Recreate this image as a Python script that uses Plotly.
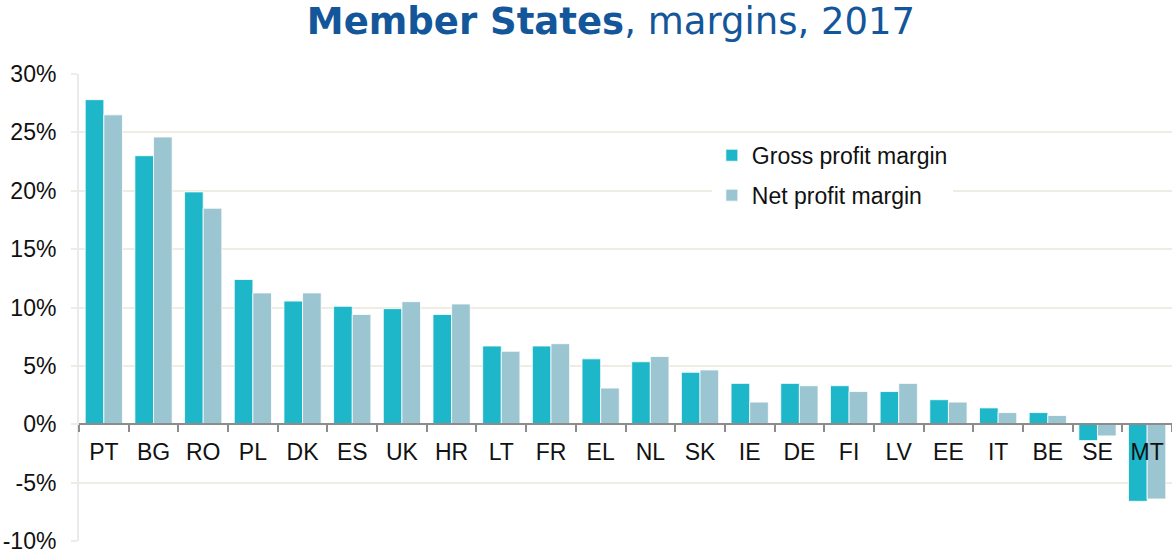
import plotly.graph_objects as go

countries = ["PT", "BG", "RO", "PL", "DK", "ES", "UK", "HR", "LT", "FR", "EL",
             "NL", "SK", "IE", "DE", "FI", "LV", "EE", "IT", "BE", "SE", "MT"]
gross_margin = [27.8, 23.0, 19.9, 12.4, 10.55, 10.1, 9.9, 9.4, 6.7, 6.7, 5.6,
                5.35, 4.45, 3.5, 3.5, 3.3, 2.8, 2.1, 1.4, 1.0, -1.4, -6.6]
net_margin = [26.5, 24.6, 18.5, 11.25, 11.25, 9.4, 10.5, 10.3, 6.25, 6.9, 3.1,
              5.8, 4.65, 1.9, 3.3, 2.8, 3.5, 1.9, 1.0, 0.75, -1.0, -6.4]
series_names = ["Gross profit margin", "Net profit margin"]
y_ticks = [-10, -5, 0, 5, 10, 15, 20, 25, 30]
y_ticklabels = ["-10%", "-5%", "0%", "5%", "10%", "15%", "20%", "25%", "30%"]

GROSS_COLOR = "#1EB6C9"
NET_COLOR = "#9CC5D2"
FONT = "Liberation Sans, Arial, sans-serif"

fig = go.Figure()
fig.add_trace(go.Bar(x=countries, y=gross_margin, name=series_names[0],
                     marker=dict(color=GROSS_COLOR, line=dict(color="white", width=0.8)),
                     legendgroup="g"))
fig.add_trace(go.Bar(x=countries, y=net_margin, name=series_names[1],
                     marker=dict(color=NET_COLOR, line=dict(color="white", width=0.8)),
                     legendgroup="n"))

fig.update_layout(
    width=1172, height=555,
    margin=dict(l=79, r=0, t=74, b=14),
    paper_bgcolor="white", plot_bgcolor="white",
    barmode="group", bargap=0.25, bargroupgap=0,
    title=dict(
        text="<b>Member States</b>, margins, 2017",
        x=611 / 1172, xref="container", xanchor="center",
        y=0.963, yanchor="middle",
        font=dict(family="DejaVu Sans, Verdana, sans-serif", size=37, color="#14569A"),
    ),
    font=dict(family=FONT, size=23, color="#111111"),
    legend=dict(
        x=0.579, y=0.872, xanchor="left", yanchor="top",
        bgcolor="white", borderwidth=0,
        font=dict(family=FONT, size=23, color="#111111"),
        tracegroupgap=7, traceorder="grouped",
        itemwidth=30,
    ),
    showlegend=True,
)

fig.update_yaxes(
    range=[-10, 30], tickvals=y_ticks, ticktext=y_ticklabels,
    showgrid=True, gridcolor="#EFECE2", gridwidth=2,
    zeroline=False, automargin=False,
    showline=True, linecolor="#EAEAEA", linewidth=2,
    ticks="outside", ticklen=6, tickcolor="#EFECE2", tickwidth=2,
    tickfont=dict(family=FONT, size=23, color="#111111"),
    ticklabelstandoff=10,
)
fig.update_xaxes(
    anchor="free", position=0.25, automargin=False,
    showgrid=False, zeroline=False,
    showline=True, linecolor="#8C8C8C", linewidth=2,
    ticks="outside", tickson="boundaries", ticklen=7, tickcolor="#8C8C8C", tickwidth=2,
    tickfont=dict(family=FONT, size=23, color="#111111"),
    ticklabelstandoff=7,
    layer="above traces",
)

fig.write_html("out.html", config={"displayModeBar": False},
               post_script="document.body.style.margin='0';")
